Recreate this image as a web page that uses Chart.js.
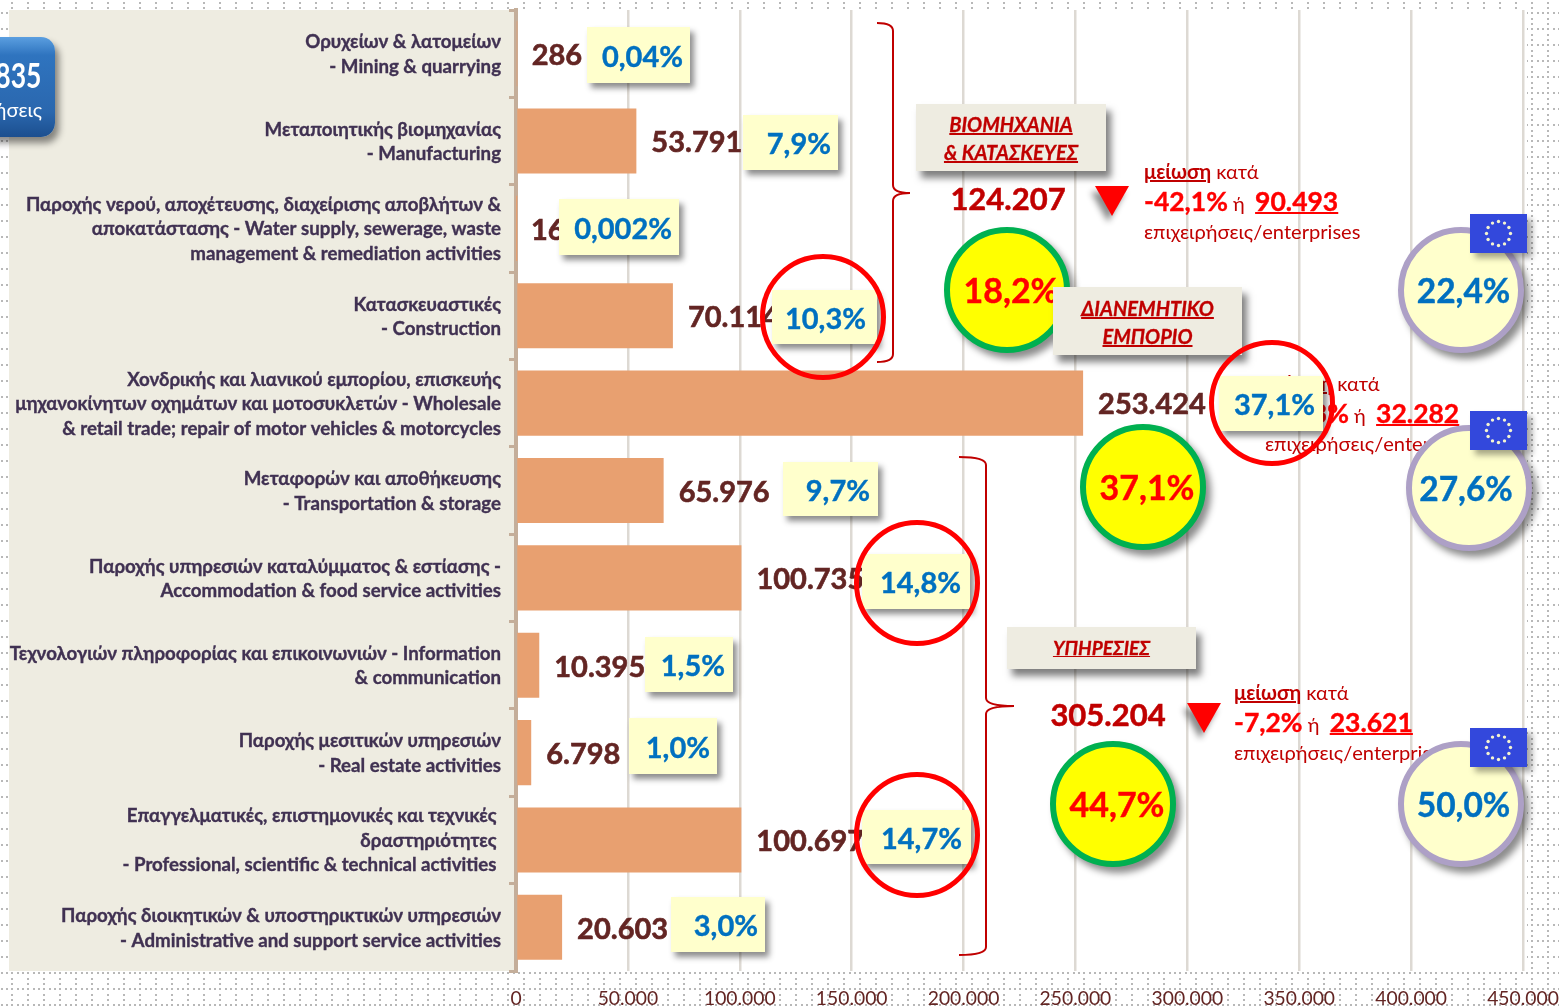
<!DOCTYPE html>
<html lang="el">
<head>
<meta charset="utf-8">
<title>Επιχειρήσεις ανά τομέα</title>
<script src="https://cdn.jsdelivr.net/npm/chart.js@4/dist/chart.umd.js"></script>
<style>
  * { box-sizing: border-box; }
  html, body { margin: 0; width: 1559px; height: 1008px; overflow: hidden; }
  body {
    position: relative;
    background-color: #fff;
    background-image: url("data:image/svg+xml,%3Csvg xmlns='http://www.w3.org/2000/svg' width='16' height='16'%3E%3Cg fill='%23b8b8b8'%3E%3Crect x='1' y='12' width='2' height='2'/%3E%3Crect x='6' y='12' width='2' height='2'/%3E%3Crect x='11' y='12' width='2' height='2'/%3E%3Crect x='11' y='2' width='2' height='2'/%3E%3Crect x='11' y='7' width='2' height='2'/%3E%3C/g%3E%3C/svg%3E");
    font-family: Lato, "Noto Sans", sans-serif;
  }
  canvas { position: absolute; left: 0; top: 0; }
  .abs { position: absolute; white-space: nowrap; }
  .badge {
    position: absolute; left: -40px; top: 37px; width: 95px; height: 100px; border-radius: 14px;
    background: linear-gradient(#5b9fe0 0%, #2f74bf 18%, #2a67ae 75%, #1c4f8f 100%);
    box-shadow: 4px 6px 7px rgba(0,0,0,.45); color: #fff; text-align: right;
  }
  .sector {
    position: absolute; background: #eeece1; box-shadow: 5px 7px 7px rgba(0,0,0,.5);
    color: #c00000; font-weight: 700; font-style: italic; text-decoration: underline;
    text-align: center; font-size: 20px; -webkit-text-stroke: .3px currentColor;
  }
  .disc {
    position: absolute; width: 126px; height: 126px; border-radius: 50%; border: 6px solid;
    display: flex; align-items: center; justify-content: center; font-weight: 700;
    box-shadow: 5px 6px 7px rgba(0,0,0,.45); padding-left: 5px; -webkit-text-stroke: .4px currentColor;
  }
  .disc.here { background: #ff0; border-color: #00b050; color: #f00; font-size: 34px; padding-left: 8px; padding-bottom: 2px; }
  .disc.eu { background: #ffffcc; border-color: #ada0c6; color: #0070c0; font-size: 33.5px; }
  .ring { position: absolute; width: 126px; height: 126px; border-radius: 50%; border: 5px solid #f00; }
  .share {
    position: absolute; background: #ffffcc; color: #0070c0; font-weight: 700; font-size: 29px;
    display: flex; align-items: center; justify-content: flex-end;
    box-shadow: 4px 5px 6px rgba(0,0,0,.45); -webkit-text-stroke: .4px currentColor;
  }
  .total { position: absolute; color: #c00000; font-weight: 700; font-size: 31px; width: 180px; text-align: center; -webkit-text-stroke: .5px currentColor; }
  .arrow {
    position: absolute; width: 34px; height: 30px; background: #f00;
    clip-path: polygon(0 0, 100% 0, 50% 100%);
  }
  .arrowWrap { position: absolute; left: 0; top: 0; filter: drop-shadow(-4px 6px 3px rgba(0,0,0,.45)); }
  .drop { color: #c00000; font-size: 20.1px; line-height: 30px; }
  .drop b.big { color: #f00; font-size: 26.5px; -webkit-text-stroke: .4px currentColor; }
  .drop u { text-decoration-thickness: 2px; }
  .drop span { position: relative; top: -2px; }
  svg.over { position: absolute; left: 0; top: 0; }
</style>
</head>
<body>
<canvas id="chart" width="1559" height="1008"></canvas>

<div class="badge">
  <div class="abs" style="right:14px;top:17px;font-size:34px;font-weight:700;transform:scaleX(.78);transform-origin:right">682.835</div>
  <div class="abs" style="right:13px;top:60px;font-size:20px">επιχειρήσεις</div>
</div>

<svg class="over" width="1559" height="1008" fill="none" stroke="#c00000" stroke-width="2">
  <path d="M877 23 Q893 23 893 31 V185 Q893 193 910 193 Q893 193 893 201 V354 Q893 362 877 362"/>
  <path d="M959 457 Q986 457 986 465 V698 Q986 706 1014 706 Q986 706 986 714 V947 Q986 955 959 955"/>
</svg>

<div class="total" style="left:918px;top:179px">124.207</div>
<div class="total" style="left:1018px;top:695px">305.204</div>
<div class="arrowWrap"><div class="arrow" style="left:1095px;top:186px"></div><div class="arrow" style="left:1187px;top:703px"></div></div>

<div class="abs drop" style="left:1144px;top:156px"><b><u>μείωση</u></b> κατά<br><b class="big">-42,1%</b> ή &nbsp;<b class="big"><u>90.493</u></b><br><span>επιχειρήσεις/enterprises</span></div>
<div class="abs drop" style="left:1265px;top:368px"><b><u>μείωση</u></b> κατά<br><b class="big">-11,3%</b> ή &nbsp;<b class="big"><u>32.282</u></b><br><span>επιχειρήσεις/enterprises</span></div>
<div class="abs drop" style="left:1234px;top:677px"><b><u>μείωση</u></b> κατά<br><b class="big">-7,2%</b> ή &nbsp;<b class="big"><u>23.621</u></b><br><span>επιχειρήσεις/enterprises</span></div>

<div class="disc here" style="left:944px;top:227px">18,2%</div>
<div class="sector" style="left:916px;top:104px;width:190px;height:67px;line-height:28px;padding-top:6px">ΒΙΟΜΗΧΑΝΙΑ<br>&amp; ΚΑΤΑΣΚΕΥΕΣ</div>
<div class="sector" style="left:1053px;top:287px;width:189px;height:68px;line-height:28px;padding-top:7px">ΔΙΑΝΕΜΗΤΙΚΟ<br>ΕΜΠΟΡΙΟ</div>
<div class="disc here" style="left:1080px;top:424px">37,1%</div>
<div class="sector" style="left:1007px;top:627px;width:189px;height:42px;line-height:42px;font-size:19px">ΥΠΗΡΕΣΙΕΣ</div>
<div class="disc here" style="left:1050px;top:741px">44,7%</div>

<div class="disc eu" style="left:1398px;top:227px">22,4%</div>
<div class="disc eu" style="left:1406px;top:425px;padding-left:0;padding-right:6px">27,6%</div>
<div class="disc eu" style="left:1398px;top:741px">50,0%</div>

<script>
const categories = [
  ["Ορυχείων & λατομείων", "- Mining & quarrying"],
  ["Μεταποιητικής βιομηχανίας", "- Manufacturing"],
  ["Παροχής νερού, αποχέτευσης, διαχείρισης αποβλήτων &", "αποκατάστασης - Water supply, sewerage, waste", "management & remediation activities"],
  ["Κατασκευαστικές", "- Construction"],
  ["Χονδρικής και λιανικού εμπορίου, επισκευής", "μηχανοκίνητων οχημάτων και μοτοσυκλετών - Wholesale", "& retail trade; repair of motor vehicles & motorcycles"],
  ["Μεταφορών και αποθήκευσης", "- Transportation & storage"],
  ["Παροχής υπηρεσιών καταλύμματος & εστίασης -", "Accommodation & food service activities"],
  ["Τεχνολογιών πληροφορίας και επικοινωνιών - Information", "& communication"],
  ["Παροχής μεσιτικών υπηρεσιών", "- Real estate activities"],
  ["Επαγγελματικές, επιστημονικές και τεχνικές ", "δραστηριότητες ", "- Professional, scientific & technical activities "],
  ["Παροχής διοικητικών & υποστηρικτικών υπηρεσιών", "- Administrative and support service activities"]
];
const enterprises = [286, 53791, 16, 70114, 253424, 65976, 100735, 10395, 6798, 100697, 20603];
const shares = ["0,04%", "7,9%", "0,002%", "10,3%", "37,1%", "9,7%", "14,8%", "1,5%", "1,0%", "14,7%", "3,0%"];

// share boxes: left, top, right, bottom, text inset from the right, in page pixels
const shareBoxes = [
  [587, 27, 690, 83, 7], [743, 115, 838, 170, 7], [559, 199, 679, 255, 7], [772, 290, 877, 344, 11],
  [1219, 376, 1323, 431, 8], [783, 462, 878, 516, 8], [862, 554, 970, 609, 9], [645, 637, 733, 692, 8],
  [629, 718, 717, 774, 7], [862, 810, 971, 864, 9], [671, 897, 765, 952, 7]
];
const rings = [[760, 254], [854, 520], [854, 772], [1209, 340]];
const flags = [[1470, 214], [1470, 411], [1470, 728]];

const dotted = (v) => String(v).replace(/\B(?=(\d{3})+$)/g, ".");

const backdrop = {
  id: "backdrop",
  beforeDraw(chart) {
    const { ctx, chartArea } = chart;
    ctx.save();
    ctx.fillStyle = "#fff";
    ctx.fillRect(9, chartArea.top, chartArea.right + 4 - 9, chartArea.bottom - chartArea.top);
    ctx.fillStyle = "#eeece1";
    ctx.fillRect(9, chartArea.top, chartArea.left - 9, chartArea.bottom - chartArea.top);
    ctx.restore();
  }
};

const valueLabels = {
  id: "valueLabels",
  afterDatasetsDraw(chart) {
    const { ctx } = chart;
    ctx.save();
    ctx.font = "700 29px Lato, 'Noto Sans', sans-serif";
    ctx.fillStyle = "#632523";
    ctx.strokeStyle = "#632523";
    ctx.lineWidth = 0.6;
    ctx.textBaseline = "middle";
    ctx.textAlign = "left";
    chart.getDatasetMeta(0).data.forEach((bar, i) => {
      const label = dotted(enterprises[i]);
      ctx.strokeText(label, bar.x + 15, bar.y + 2);
      ctx.fillText(label, bar.x + 15, bar.y + 2);
    });
    ctx.restore();
  }
};

new Chart(document.getElementById("chart"), {
  type: "bar",
  data: {
    labels: categories,
    datasets: [{
      data: enterprises,
      backgroundColor: "#e8a070",
      barPercentage: 0.745,
      categoryPercentage: 1
    }]
  },
  options: {
    indexAxis: "y",
    responsive: false,
    animation: false,
    layout: { padding: { top: 10, right: 36 } },
    plugins: { legend: { display: false }, tooltip: { enabled: false } },
    scales: {
      x: {
        min: 0,
        max: 450000,
        afterFit: (s) => { s.height = 37; s.paddingLeft = 0; s.paddingRight = 0; },
        grid: { color: "#ddd9d3", lineWidth: 2.5, drawTicks: false },
        border: { display: false },
        ticks: {
          stepSize: 50000,
          padding: 16,
          maxRotation: 0,
          color: "#632523",
          font: { family: "Lato, 'Noto Sans', sans-serif", size: 19.3 },
          callback: (v) => dotted(v)
        }
      },
      y: {
        afterFit: (s) => { s.width = 516; s.paddingTop = 0; s.paddingBottom = 0; },
        grid: { drawOnChartArea: false, offset: true, color: "#c4ae9a", lineWidth: 3, tickLength: 7 },
        border: { color: "#c4ae9a", width: 4 },
        ticks: {
          autoSkip: false,
          padding: 8,
          labelOffset: 1,
          color: "#403152",
          textStrokeColor: "#403152",
          textStrokeWidth: 0.35,
          font: { family: "Lato, 'Noto Sans', sans-serif", size: 18.7, weight: "700", lineHeight: 1.31 }
        }
      }
    }
  },
  plugins: [backdrop, valueLabels]
});

// share boxes sit over the value labels and the drop notes, rings over those
shares.forEach((text, i) => {
  const [l, t, r, b, inset] = shareBoxes[i];
  const el = document.createElement("div");
  el.className = "share";
  el.style.cssText = `left:${l}px;top:${t}px;width:${r - l}px;height:${b - t}px;padding-right:${inset}px`;
  el.textContent = text;
  document.body.appendChild(el);
});
rings.forEach(([l, t]) => {
  const el = document.createElement("div");
  el.className = "ring";
  el.style.cssText = `left:${l}px;top:${t}px`;
  document.body.appendChild(el);
});
flags.forEach(([l, t]) => {
  let stars = "";
  for (let k = 0; k < 12; k++) {
    const a = (k / 12) * 2 * Math.PI;
    stars += `<circle cx="${28.5 + 12 * Math.cos(a)}" cy="${19.5 + 12 * Math.sin(a)}" r="1.7" fill="#f4f4d0"/>`;
  }
  const el = document.createElement("div");
  el.style.cssText = `position:absolute;left:${l}px;top:${t}px;width:57px;height:39px;background:#3348dc;box-shadow:5px 5px 6px rgba(0,0,0,.35)`;
  el.innerHTML = `<svg width="57" height="39">${stars}</svg>`;
  document.body.appendChild(el);
});
</script>
</body>
</html>
